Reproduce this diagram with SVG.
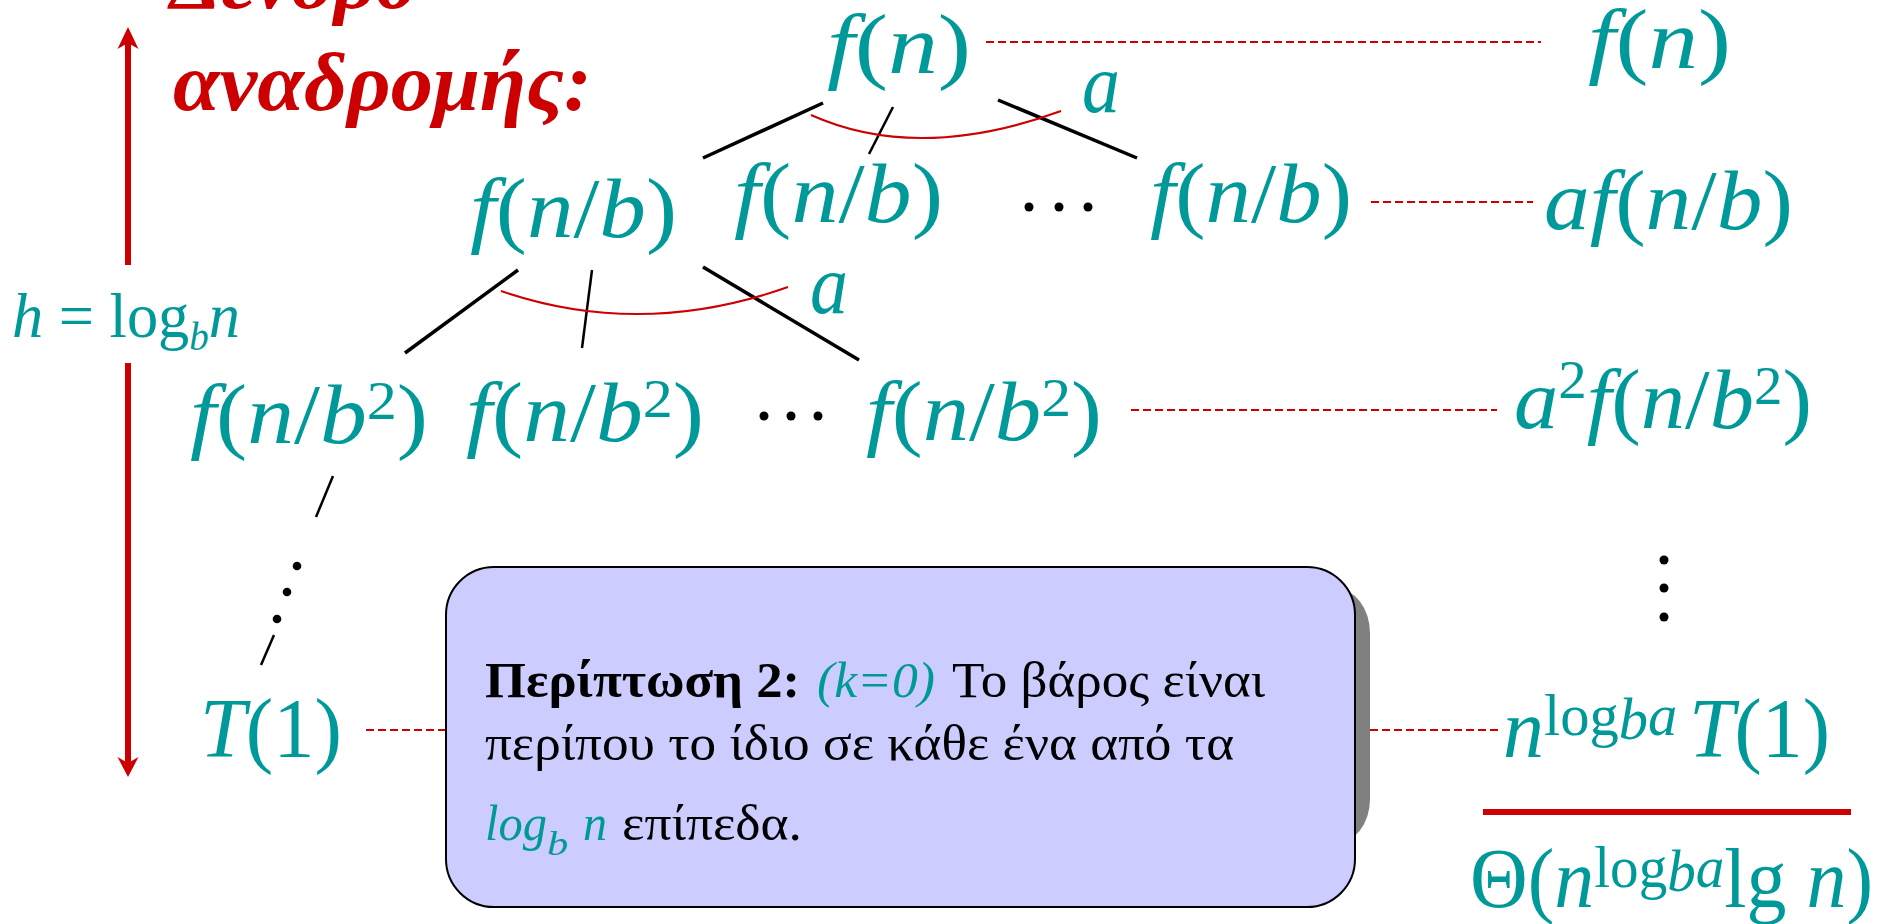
<svg xmlns="http://www.w3.org/2000/svg" width="1880" height="924" viewBox="0 0 1880 924">
<style>
text{font-family:"Liberation Serif","Times New Roman",serif}
.m{fill:#009999;font-size:84px}
.i{font-style:italic}
.t{fill:#CC0000;font-size:82px;font-weight:bold;font-style:italic}
.bx{fill:#000;font-size:50px}
.tl{fill:#009999}
.edge{stroke:#000;stroke-width:3.5;fill:none}
.edge2{stroke:#000;stroke-width:2.5;fill:none}
.arc{stroke:#CC0000;stroke-width:2;fill:none}
.dash{stroke:#CC0000;stroke-width:2;stroke-dasharray:8 4;fill:none}
.dot{fill:#000}
</style>
<rect width="1880" height="924" fill="#fff"/>

<g id="title">
<text class="t" x="170" y="8" textLength="247" lengthAdjust="spacingAndGlyphs">Δένδρο</text>
<text class="t" x="173" y="110" textLength="419" lengthAdjust="spacingAndGlyphs">αναδρομής:</text>
</g>

<g id="height-arrow">
<line x1="128" y1="42" x2="128" y2="265" stroke="#CC0000" stroke-width="6"/>
<line x1="128" y1="363" x2="128" y2="763" stroke="#CC0000" stroke-width="6"/>
<polygon points="128,27 138.5,49 128,43 117.5,49" fill="#CC0000"/>
<polygon points="128,777 138.5,757 128,763 117.5,757" fill="#CC0000"/>
<text fill="#009999" font-size="64" x="12" y="337" textLength="228" lengthAdjust="spacingAndGlyphs"><tspan class="i">h</tspan> = log<tspan class="i" font-size="40" dy="13">b</tspan><tspan class="i" dy="-13">n</tspan></text>
</g>

<g id="connectors">
<line class="edge" x1="823" y1="103" x2="703" y2="158"/>
<line class="edge2" x1="893" y1="107" x2="869" y2="154"/>
<line class="edge" x1="998" y1="100" x2="1137" y2="158"/>
<path class="arc" d="M811,115 Q918,163 1061,111"/>
<line class="edge" x1="518" y1="270" x2="405" y2="353"/>
<line class="edge2" x1="592" y1="270" x2="582" y2="348"/>
<line class="edge" x1="703" y1="267" x2="859" y2="360"/>
<path class="arc" d="M501,291 Q641,339 788,287"/>
<line class="edge2" x1="333" y1="476" x2="316" y2="517" stroke-width="3"/>
<line class="edge2" x1="274" y1="635" x2="261" y2="665" stroke-width="3"/>
<line class="dash" x1="986" y1="42" x2="1541" y2="42"/>
<line class="dash" x1="1371" y1="202" x2="1533" y2="202"/>
<line class="dash" x1="1131" y1="410" x2="1497" y2="410"/>
<line class="dash" x1="366" y1="730" x2="446" y2="730"/>
<line class="dash" x1="1370" y1="730" x2="1498" y2="730"/>
<line x1="1483" y1="812" x2="1851" y2="812" stroke="#CC0000" stroke-width="6"/>
</g>

<g id="dots">
<circle class="dot" cx="1029" cy="207" r="4.5"/>
<circle class="dot" cx="1059" cy="207" r="4.5"/>
<circle class="dot" cx="1088" cy="207" r="4.5"/>
<circle class="dot" cx="764" cy="416" r="4.5"/>
<circle class="dot" cx="791" cy="416" r="4.5"/>
<circle class="dot" cx="818" cy="416" r="4.5"/>
<circle class="dot" cx="297" cy="566" r="4.3"/>
<circle class="dot" cx="287" cy="592" r="4.3"/>
<circle class="dot" cx="277" cy="619" r="4.3"/>
<circle class="dot" cx="1664" cy="560" r="4.5"/>
<circle class="dot" cx="1664" cy="588" r="4.5"/>
<circle class="dot" cx="1664" cy="617" r="4.5"/>
</g>

<g id="node-root"><text class="m" x="827" y="73" textLength="144" lengthAdjust="spacingAndGlyphs"><tspan class="i">f</tspan>(<tspan class="i">n</tspan>)</text></g>
<g id="label-a1"><text class="m i" x="1082" y="112" textLength="38" lengthAdjust="spacingAndGlyphs">a</text></g>
<g id="sum-0"><text class="m" x="1588" y="68" textLength="143" lengthAdjust="spacingAndGlyphs"><tspan class="i">f</tspan>(<tspan class="i">n</tspan>)</text></g>

<g id="node-1a"><text class="m" x="470" y="237" textLength="207" lengthAdjust="spacingAndGlyphs"><tspan class="i">f</tspan>(<tspan class="i">n</tspan>/<tspan class="i">b</tspan>)</text></g>
<g id="node-1b"><text class="m" x="734" y="222" textLength="209" lengthAdjust="spacingAndGlyphs"><tspan class="i">f</tspan>(<tspan class="i">n</tspan>/<tspan class="i">b</tspan>)</text></g>
<g id="node-1c"><text class="m" x="1150" y="222" textLength="202" lengthAdjust="spacingAndGlyphs"><tspan class="i">f</tspan>(<tspan class="i">n</tspan>/<tspan class="i">b</tspan>)</text></g>
<g id="sum-1"><text class="m" x="1544" y="229" textLength="249" lengthAdjust="spacingAndGlyphs"><tspan class="i">af</tspan>(<tspan class="i">n</tspan>/<tspan class="i">b</tspan>)</text></g>
<g id="label-a2"><text class="m i" x="810" y="313" textLength="38" lengthAdjust="spacingAndGlyphs">a</text></g>

<g id="node-2a"><text class="m" x="190" y="443" textLength="238" lengthAdjust="spacingAndGlyphs"><tspan class="i">f</tspan>(<tspan class="i">n</tspan>/<tspan class="i">b</tspan><tspan font-size="54" dy="-24">2</tspan><tspan dy="24">)</tspan></text></g>
<g id="node-2b"><text class="m" x="466" y="441" textLength="238" lengthAdjust="spacingAndGlyphs"><tspan class="i">f</tspan>(<tspan class="i">n</tspan>/<tspan class="i">b</tspan><tspan font-size="54" dy="-24">2</tspan><tspan dy="24">)</tspan></text></g>
<g id="node-2c"><text class="m" x="866" y="440" textLength="236" lengthAdjust="spacingAndGlyphs"><tspan class="i">f</tspan>(<tspan class="i">n</tspan>/<tspan class="i">b</tspan><tspan font-size="54" dy="-24">2</tspan><tspan dy="24">)</tspan></text></g>
<g id="sum-2"><text class="m" x="1514" y="428" textLength="298" lengthAdjust="spacingAndGlyphs"><tspan class="i">a</tspan><tspan font-size="54" dy="-30">2</tspan><tspan class="i" dy="30">f</tspan>(<tspan class="i">n</tspan>/<tspan class="i">b</tspan><tspan font-size="54" dy="-24">2</tspan><tspan dy="24">)</tspan></text></g>

<g id="leaf"><text class="m" x="200" y="757" textLength="142" lengthAdjust="spacingAndGlyphs"><tspan class="i">T</tspan>(1)</text></g>
<g id="sum-leaf"><text class="m" x="1503" y="757" textLength="327" lengthAdjust="spacingAndGlyphs"><tspan class="i">n</tspan><tspan font-size="60" dy="-22">log</tspan><tspan class="i" font-size="60" dy="4">b</tspan><tspan class="i" font-size="60" dy="-4">a</tspan><tspan class="i" dy="22" dx="12">T</tspan>(1)</text></g>
<g id="total"><text class="m" x="1470" y="907" textLength="403" lengthAdjust="spacingAndGlyphs">Θ(<tspan class="i">n</tspan><tspan font-size="60" dy="-20">log</tspan><tspan class="i" font-size="60" dy="4">b</tspan><tspan class="i" font-size="60" dy="-4">a</tspan><tspan dy="20">lg </tspan><tspan class="i">n</tspan>)</text></g>

<g id="note">
<rect x="1300" y="588" width="70" height="256" rx="45" fill="#808080"/>
<rect x="446" y="567" width="909" height="340" rx="48" fill="#CCCCFF" stroke="#000" stroke-width="2"/>
<text class="bx" x="485" y="697" font-weight="bold" textLength="315" lengthAdjust="spacingAndGlyphs">Περίπτωση 2:</text>
<text class="bx i tl" x="817" y="697" textLength="118" lengthAdjust="spacingAndGlyphs">(k=0)</text>
<text class="bx" x="952" y="697" textLength="313" lengthAdjust="spacingAndGlyphs">Το βάρος είναι</text>
<text class="bx" x="485" y="760" textLength="749" lengthAdjust="spacingAndGlyphs">περίπου το ίδιο σε κάθε ένα από τα</text>
<text class="bx i tl" x="485" y="840" textLength="62" lengthAdjust="spacingAndGlyphs">log</text>
<text class="bx i tl" x="547" y="855" style="font-size:34px" textLength="21" lengthAdjust="spacingAndGlyphs">b</text>
<text class="bx i tl" x="583" y="840" textLength="24" lengthAdjust="spacingAndGlyphs">n</text>
<text class="bx" x="622" y="840" textLength="180" lengthAdjust="spacingAndGlyphs">επίπεδα.</text>
</g>
</svg>
